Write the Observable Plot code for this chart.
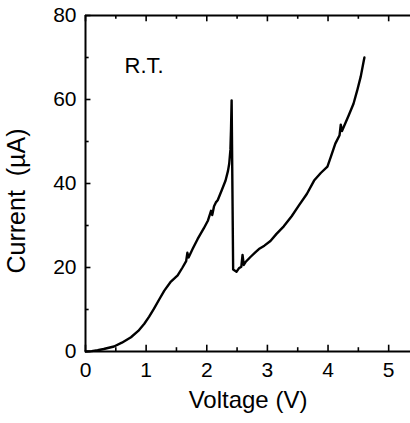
<!DOCTYPE html>
<html>
<head>
<meta charset="utf-8">
<script src="https://cdn.jsdelivr.net/npm/d3@7"></script>
<script src="https://cdn.jsdelivr.net/npm/@observablehq/plot@0.6"></script>
<style>
  html, body { margin: 0; padding: 0; background: #fff; }
</style>
</head>
<body>
<div id="chart"></div>
<script>
// Data
const voltage = [0, 0.1, 0.2, 0.3, 0.47, 0.6, 0.75, 0.87, 0.97, 1.05, 1.13, 1.22, 1.30, 1.40, 1.52, 1.60, 1.66, 1.68, 1.70, 1.77, 1.85, 1.95, 2.02, 2.07, 2.09, 2.12, 2.15, 2.18, 2.25, 2.31, 2.35, 2.37, 2.39, 2.40, 2.41, 2.435, 2.49, 2.53, 2.57, 2.59, 2.61, 2.64, 2.72, 2.80, 2.86, 2.95, 3.05, 3.15, 3.27, 3.40, 3.52, 3.65, 3.77, 3.88, 3.99, 4.05, 4.12, 4.19, 4.21, 4.23, 4.34, 4.42, 4.48, 4.54, 4.59, 4.60];
const current = [0, 0.1, 0.3, 0.6, 1.2, 2.1, 3.4, 4.9, 6.6, 8.3, 10.2, 12.5, 14.5, 16.5, 18.1, 20.0, 21.5, 23.5, 22.4, 24.5, 26.8, 29.3, 31.2, 33.5, 32.5, 34.6, 35.5, 36.0, 38.5, 40.7, 43.0, 44.7, 48.0, 53.0, 59.8, 19.5, 19.0, 19.8, 20.2, 23.0, 20.6, 21.3, 22.5, 23.6, 24.4, 25.2, 26.3, 28.0, 29.8, 32.2, 34.8, 37.5, 40.7, 42.5, 44.0, 46.5, 49.5, 51.5, 54.0, 52.5, 56.2, 59.0, 62.1, 65.5, 69.3, 70.0];

const xMajor = [0, 1, 2, 3, 4, 5];
const xMinor = [0.5, 1.5, 2.5, 3.5, 4.5];
const yMajor = [0, 20, 40, 60, 80];
const yMinor = [10, 30, 50, 70];
const xDomain = [0, 5.36];
const yDomain = [0, 80];
const xTitle = ["Voltage (V)"];
const yTitle = ["Current\u00a0 (\u00b5A)"];
const note = ["R.T."];

const rows = voltage.map((v, i) => ({v, c: current[i]}));

const font = "'Liberation Sans', Arial, Helvetica, sans-serif";

const chart = Plot.plot({
  width: 410,
  height: 423,
  marginLeft: 85,
  marginRight: 0,
  marginTop: 15,
  marginBottom: 72,
  style: {fontFamily: font, background: "#fff", color: "#000", overflow: "visible"},
  x: {domain: xDomain},
  y: {domain: yDomain},
  marks: [
    // frame (top, bottom, left)
    Plot.ruleY([yDomain[0], yDomain[1]], {stroke: "#000", strokeWidth: 2}),
    Plot.ruleX([xDomain[0]], {stroke: "#000", strokeWidth: 2}),
    // inward ticks: bottom & top
    Plot.ruleX(xMajor, {x: d => d, y1: 0, y2: 1.5, stroke: "#000", strokeWidth: 1.6}),
    Plot.ruleX(xMinor, {x: d => d, y1: 0, y2: 0.9, stroke: "#000", strokeWidth: 1.6}),
    Plot.ruleX(xMajor, {x: d => d, y1: 80, y2: 78.5, stroke: "#000", strokeWidth: 1.6}),
    Plot.ruleX(xMinor, {x: d => d, y1: 80, y2: 79.1, stroke: "#000", strokeWidth: 1.6}),
    // inward ticks: left
    Plot.ruleY(yMajor, {y: d => d, x1: 0, x2: 0.09, stroke: "#000", strokeWidth: 1.6}),
    Plot.ruleY(yMinor, {y: d => d, x1: 0, x2: 0.06, stroke: "#000", strokeWidth: 1.6}),
    // tick labels
    Plot.axisX(xMajor, {tickSize: 0, tickPadding: 11, fontSize: 21, label: null}),
    Plot.axisY(yMajor, {tickSize: 0, tickPadding: 9, fontSize: 21, label: null}),
    // axis titles
    Plot.text(xTitle, {frameAnchor: "bottom", dy: 56, fontSize: 24, fill: "#000"}),
    Plot.text(yTitle, {frameAnchor: "bottom-left", textAnchor: "start", rotate: -90, dx: -61, dy: -78, fontSize: 25, fill: "#000"}),
    Plot.text(note, {frameAnchor: "top-left", textAnchor: "start", dx: 39, dy: 42, fontSize: 22, fill: "#000"}),
    // I-V curve
    Plot.line(rows, {x: "v", y: "c", stroke: "#000", strokeWidth: 2.4, strokeLinejoin: "round"})
  ]
});

document.getElementById("chart").appendChild(chart);
</script>
</body>
</html>
